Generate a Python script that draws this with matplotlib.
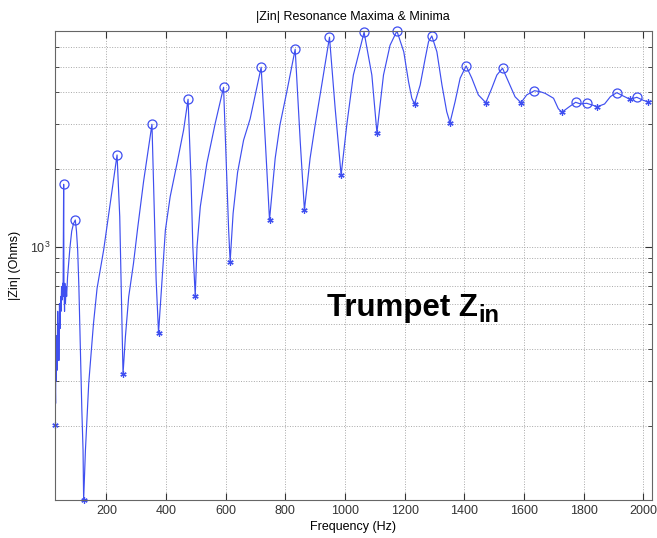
import numpy as np
import matplotlib
matplotlib.use('Agg')
import matplotlib.pyplot as plt
from matplotlib.ticker import LogLocator, NullFormatter

# |Zin| curve (Hz, Ohms)
freq = [28, 29, 30, 31, 32, 34, 35, 37, 38, 40, 41, 43, 45, 47, 48, 50, 52, 54, 55,
        57, 58, 60, 61, 63, 65, 67, 70, 73, 78, 84, 90, 96,
        100, 104, 108, 113, 118, 122, 124,
        130, 141, 157, 169, 191, 213, 236,
        245, 256,
        264, 275, 291, 305, 325, 342, 353,
        361, 367, 375,
        387, 398, 414, 437, 459, 474,
        484, 490, 498,
        504, 515, 537, 565, 593,
        604, 610, 615,
        625, 640, 660, 682, 700, 719,
        733, 747,
        766, 782, 805, 833,
        850, 864,
        883, 900, 922, 948,
        967, 987,
        1006, 1028, 1064,
        1090, 1107,
        1129, 1151, 1174,
        1197, 1213, 1224, 1233,
        1252, 1269, 1280, 1291,
        1308, 1325, 1341, 1352,
        1369, 1386, 1406,
        1425, 1447, 1472,
        1492, 1509, 1528,
        1548, 1570, 1590,
        1609, 1635,
        1654, 1671, 1699, 1715, 1727,
        1750, 1773, 1790, 1810, 1846,
        1870, 1890, 1911, 1930, 1955,
        1978, 2000, 2014, 2028]
zin = [202, 290, 245, 420, 300, 450, 330, 560, 400, 500, 360, 600, 480, 640, 560, 700, 620, 720, 640,
       1751, 700, 560, 720, 600, 700, 640, 760, 836, 990, 1150, 1230, 1271,
       1150, 970, 700, 395, 230, 161, 103,
       161, 293, 502, 688, 970, 1476, 2278,
       1309, 319,
       446, 638, 860, 1180, 1800, 2455, 3000,
       1349, 742, 462,
       742, 1161, 1566, 2113, 2850, 3756,
       1820, 1000, 643,
       1000, 1432, 2113, 3026, 4182,
       1820, 1161, 874,
       1350, 1950, 2600, 3150, 3950, 5005,
       2566, 1271,
       2211, 2985, 4020, 5884,
       2566, 1390,
       2211, 2985, 4268, 6553,
       3465, 1903,
       2985, 4667, 6852,
       4667, 2783,
       4667, 6100, 6930,
       5750, 4395, 3790, 3600,
       4268, 5430, 6300, 6630,
       5750, 4268, 3358, 3044,
       3675, 4540, 5063,
       4540, 3905, 3642,
       4146, 4667, 4961,
       4395, 3840, 3642,
       3905, 4055,
       4020, 3960, 3790, 3450, 3342,
       3500, 3655, 3600, 3623, 3514,
       3600, 3850, 3985, 3880, 3756,
       3822, 3720, 3677, 3690]

# resonance maxima (circles) and minima (asterisks)
max_f = [57, 96, 236, 353, 474, 593, 719, 833, 948, 1064, 1174, 1291, 1406, 1528,
         1635, 1773, 1810, 1911, 1978]
max_z = [1751, 1271, 2278, 3000, 3756, 4182, 5005, 5884, 6553, 6852, 6930, 6630, 5063, 4961,
         4055, 3655, 3623, 3985, 3822]
min_f = [28, 124, 256, 375, 498, 615, 747, 864, 987, 1107, 1233, 1352, 1472, 1590,
         1727, 1846, 1955, 2014]
min_z = [202, 103, 319, 462, 643, 874, 1271, 1390, 1903, 2783, 3600, 3044, 3642, 3642,
         3342, 3514, 3756, 3677]

plt.rcParams['font.family'] = ['Liberation Sans', 'DejaVu Sans']
col = '#3f4ff0'

fig = plt.figure(figsize=(6.57, 5.38), dpi=100)
ax = fig.add_axes([55/657, 38/538, 596.7/657, 469/538])

ax.plot(freq, zin, c=col, lw=0.85)
ax.plot(max_f, max_z, 'o', mec=col, mfc='none', ms=6.5, mew=0.9, clip_on=False)
# matlab style asterisk
ax.plot(min_f, min_z, ls='none', marker=(6, 2, 0), mec=col, ms=4.5, mew=0.9, clip_on=False)

ax.set_yscale('log')
ax.set_xlim(28, 2028)
ax.set_ylim(103, 6930)
ax.set_xticks(np.arange(200, 2001, 200))
ax.yaxis.set_major_locator(LogLocator(base=10))
ax.yaxis.set_minor_locator(LogLocator(base=10, subs=np.arange(2, 10)))
ax.yaxis.set_minor_formatter(NullFormatter())

ax.grid(True, which='major', ls=':', c='#a8a8a8', lw=0.7)
ax.grid(True, which='minor', axis='y', ls=':', c='#a8a8a8', lw=0.7)
ax.tick_params(which='both', direction='in', top=True, right=True, labelsize=9, colors='#333333')
ax.tick_params(which='major', length=5)
ax.tick_params(which='minor', length=3)
for s in ax.spines.values():
    s.set_color('#666666')
    s.set_linewidth(0.8)

ax.set_title('|Zin| Resonance Maxima & Minima', fontsize=9, pad=8)
ax.set_xlabel('Frequency (Hz)', fontsize=9, labelpad=3)
ax.set_ylabel('|Zin| (Ohms)', fontsize=9, labelpad=6)

fig.text(327/657, 1 - 316/538, 'Trumpet Z', fontsize=22.5, fontweight='bold', ha='left', va='baseline')
fig.text(478/657, 1 - 322/538, 'in', fontsize=17, fontweight='bold', ha='left', va='baseline')

plt.savefig('out.png')
